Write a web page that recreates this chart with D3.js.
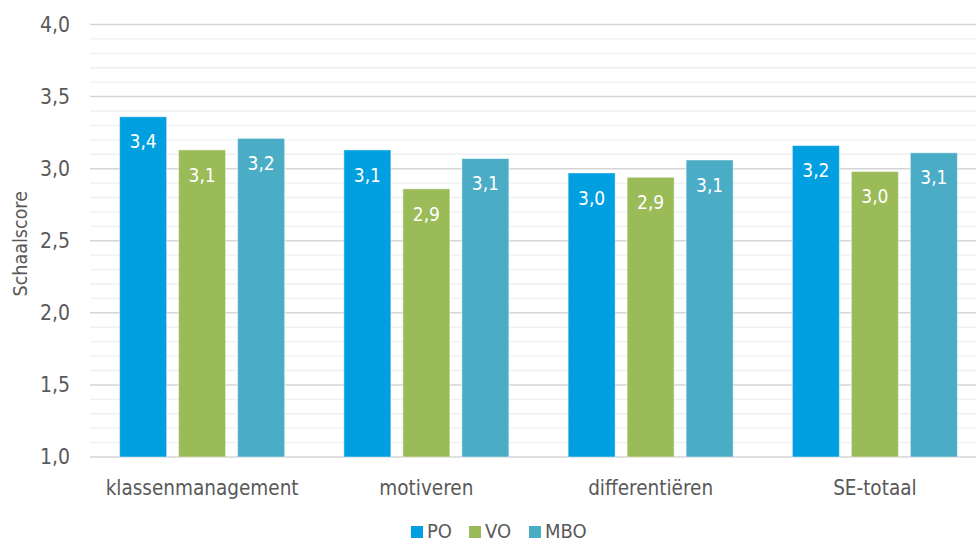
<!DOCTYPE html>
<html>
<head>
<meta charset="utf-8">
<script src="https://cdn.jsdelivr.net/npm/d3@7"></script>
<style>
  html, body { margin: 0; padding: 0; background: #fff; }
  svg { display: block; font-family: "DejaVu Sans Condensed", "DejaVu Sans", sans-serif; }
</style>
</head>
<body>
<svg id="chart" width="976" height="543"></svg>
<script>
// Schaalscores per onderdeel en onderwijssector
const categories = ["klassenmanagement", "motiveren", "differentiëren", "SE-totaal"];
const seriesNames = ["PO", "VO", "MBO"];
const seriesColors = ["#009fdf", "#9bbb59", "#4bacc6"];
const PO  = [3.36, 3.13, 2.97, 3.16];
const VO  = [3.13, 2.86, 2.94, 2.98];
const MBO = [3.21, 3.07, 3.06, 3.11];
const yTicks = [1.0, 1.5, 2.0, 2.5, 3.0, 3.5, 4.0];
const yMinorStep = 0.1;

const seriesValues = [PO, VO, MBO];
const rows = categories.map((c, i) => ({
  category: c,
  values: seriesNames.map((s, j) => ({ series: s, value: seriesValues[j][i], color: seriesColors[j] }))
}));

const svg = d3.select("#chart");
const W = 976, H = 543;
const margin = { left: 90, right: -11, top: 24.5, bottom: 86 };
const plotW = W - margin.left - margin.right;
const plotH = H - margin.top - margin.bottom;

const g = svg.append("g")
  .attr("transform", `translate(${margin.left},${margin.top})`);

const y = d3.scaleLinear().domain([1, 4]).range([plotH, 0]);
const x0 = d3.scaleBand().domain(categories).range([0, plotW]).paddingInner(0).paddingOuter(0);
const groupW = 165;
const x1 = d3.scaleBand().domain(seriesNames).range([0, groupW]).paddingInner(12 / 59).paddingOuter(0);

const fmt = v => d3.format(".1f")(v).replace(".", ",");

// minor gridlines
const minor = d3.range(1, 4.0001, yMinorStep).filter(v => Math.abs(v * 2 - Math.round(v * 2)) > 1e-6);
g.append("g").selectAll("line").data(minor).join("line")
  .attr("x1", 0).attr("x2", plotW)
  .attr("y1", d => y(d)).attr("y2", d => y(d))
  .attr("stroke", "#efefef").attr("stroke-width", 1.3);

// major gridlines
g.append("g").selectAll("line").data(yTicks).join("line")
  .attr("x1", 0).attr("x2", plotW)
  .attr("y1", d => y(d)).attr("y2", d => y(d))
  .attr("stroke", "#d6d6d6").attr("stroke-width", 1.5);

// y axis labels
const yAxis = d3.axisLeft(y).tickValues(yTicks).tickFormat(fmt).tickSize(0).tickPadding(20);
const ya = g.append("g").call(yAxis);
ya.select(".domain").remove();
ya.selectAll("text").attr("fill", "#595959").attr("font-size", 21)
  .attr("font-family", "DejaVu Sans Condensed, DejaVu Sans, sans-serif");

// y axis title
svg.append("text")
  .attr("transform", `translate(27,${margin.top + plotH / 2 + 3}) rotate(-90)`)
  .attr("text-anchor", "middle")
  .attr("fill", "#595959").attr("font-size", 19.5)
  .text("Schaalscore");

// bars
const groups = g.selectAll("g.grp").data(rows).join("g")
  .attr("class", "grp")
  .attr("transform", d => `translate(${x0(d.category) + (x0.bandwidth() - groupW) / 2},0)`);

groups.selectAll("rect").data(d => d.values).join("rect")
  .attr("x", d => x1(d.series))
  .attr("width", x1.bandwidth())
  .attr("y", d => y(d.value))
  .attr("height", d => y(1) - y(d.value))
  .attr("fill", d => d.color)
  .attr("stroke", "#ffffff").attr("stroke-opacity", 0.45).attr("stroke-width", 1);

groups.selectAll("text").data(d => d.values).join("text")
  .attr("x", d => x1(d.series) + x1.bandwidth() / 2)
  .attr("y", d => y(d.value) + 25)
  .attr("dy", "0.35em")
  .attr("text-anchor", "middle")
  .attr("fill", "#ffffff").attr("font-size", 19)
  .text(d => fmt(d.value));

// category labels
g.append("g").selectAll("text").data(categories).join("text")
  .attr("x", d => x0(d) + x0.bandwidth() / 2)
  .attr("y", plotH + 31)
  .attr("dy", "0.35em")
  .attr("text-anchor", "middle")
  .attr("fill", "#595959").attr("font-size", 20.5)
  .text(d => d);

// legend
const legendX = [411, 469, 529];
const lg = svg.append("g").attr("transform", "translate(0,538)");
const items = lg.selectAll("g").data(seriesNames).join("g")
  .attr("transform", (d, i) => `translate(${legendX[i]},0)`);
items.append("rect").attr("x", 0).attr("y", -12).attr("width", 12).attr("height", 12)
  .attr("fill", (d, i) => seriesColors[i]);
items.append("text").attr("x", 16).attr("y", 0)
  .attr("fill", "#595959").attr("font-size", 20)
  .text(d => d);
</script>
</body>
</html>
